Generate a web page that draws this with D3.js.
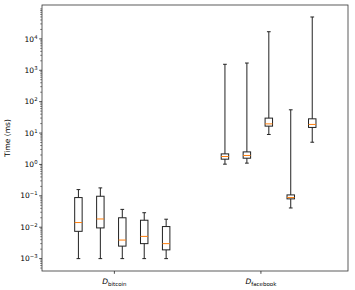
<!DOCTYPE html>
<html>
<head>
<meta charset="utf-8">
<script src="https://cdn.jsdelivr.net/npm/d3@7"></script>
<style>
  body { margin: 0; background: #fff; }
  svg { font-family: "DejaVu Sans", sans-serif; }
</style>
</head>
<body>
<svg id="chart" width="355" height="290"></svg>
<script>
// box positions (x units) and five-number summaries in ms
var positions = [0, 1, 2, 3, 4, 6.68, 7.68, 8.68, 9.68, 10.66];
var whiskerLow  = [0.001, 0.001, 0.001, 0.001, 0.001, 1.02, 1.10, 9.0, 0.041, 5.1];
var q1          = [0.0074, 0.0095, 0.0025, 0.0030, 0.0019, 1.47, 1.58, 16.6, 0.080, 15.1];
var medians     = [0.0141, 0.0183, 0.0039, 0.0051, 0.0030, 1.79, 1.93, 19.6, 0.088, 18.8];
var q3          = [0.088, 0.097, 0.020, 0.0167, 0.0105, 2.17, 2.51, 29.9, 0.107, 28.4];
var whiskerHigh = [0.158, 0.179, 0.037, 0.029, 0.018, 1550, 1700, 16900, 55, 49800];

var groupTicks = [1.64, 8.32];
var groupNames = ["bitcoin", "facebook"];
var yTicks = [1e-3, 1e-2, 1e-1, 1e0, 1e1, 1e2, 1e3, 1e4];

var svg = d3.select("#chart"),
    margin = {top: 5, right: 7, bottom: 19, left: 42},
    width = +svg.attr("width") - margin.left - margin.right,
    height = +svg.attr("height") - margin.top - margin.bottom,
    g = svg.append("g").attr("transform", "translate(" + margin.left + "," + margin.top + ")");

var x = d3.scaleLinear().domain([-1.66, 12.29]).range([0, width]);
var y = d3.scaleLog().domain([4.03e-4, 1.2e5]).range([height, 0]);

var boxW = x(0.34) - x(0),
    capW = boxW / 2;

var data = positions.map(function(p, i) {
  return {pos: p, lo: whiskerLow[i], q1: q1[i], med: medians[i], q3: q3[i], hi: whiskerHigh[i]};
});

// minor ticks
var minor = [];
for (var e = -4; e <= 5; e++) {
  for (var m = 2; m <= 9; m++) {
    var v = m * Math.pow(10, e);
    if (v >= y.domain()[0] && v <= y.domain()[1]) minor.push(v);
  }
}
g.selectAll(".minor")
  .data(minor)
  .enter().append("line")
    .attr("x1", -1.8).attr("x2", 0)
    .attr("y1", function(d) { return y(d); })
    .attr("y2", function(d) { return y(d); })
    .attr("stroke", "#000").attr("stroke-width", 0.5);

// y axis major ticks + labels
var yt = g.selectAll(".ytick")
  .data(yTicks)
  .enter().append("g")
    .attr("transform", function(d) { return "translate(0," + y(d) + ")"; });
yt.append("line").attr("x1", -2.8).attr("x2", 0).attr("stroke", "#000").attr("stroke-width", 0.7);
var yl = yt.append("text")
    .attr("x", -4.5)
    .attr("dy", "0.35em")
    .attr("text-anchor", "end")
    .style("font-size", "7.5px");
yl.append("tspan").text("10");
yl.append("tspan")
    .attr("dy", -3)
    .style("font-size", "5.3px")
    .text(function(d) { return String(Math.round(Math.log10(d))).replace("-", "\u2212"); });

// x ticks
var xt = g.selectAll(".xtick")
  .data(groupTicks)
  .enter().append("g")
    .attr("transform", function(d, i) { return "translate(" + x(d) + "," + height + ")"; });
xt.append("line").attr("y1", 0).attr("y2", 2.8).attr("stroke", "#000").attr("stroke-width", 0.7);
var lab = xt.append("text")
    .attr("y", 13)
    .attr("text-anchor", "middle")
    .style("font-size", "7.5px");
lab.append("tspan").style("font-style", "italic").text("D");
lab.append("tspan").attr("dy", 1.8).style("font-size", "5.5px").text(function(d, i) { return groupNames[i]; });

// y label
svg.append("text")
    .attr("transform", "translate(10," + (margin.top + height / 2) + ") rotate(-90)")
    .attr("text-anchor", "middle")
    .style("font-size", "7.5px")
    .text("Time (ms)");

// boxes
var box = g.selectAll(".box")
  .data(data)
  .enter().append("g")
    .attr("class", "box");

box.append("line")
    .attr("x1", function(d) { return x(d.pos); })
    .attr("x2", function(d) { return x(d.pos); })
    .attr("y1", function(d) { return y(d.lo); })
    .attr("y2", function(d) { return y(d.q1); })
    .attr("stroke", "#222").attr("stroke-width", 1);
box.append("line")
    .attr("x1", function(d) { return x(d.pos); })
    .attr("x2", function(d) { return x(d.pos); })
    .attr("y1", function(d) { return y(d.q3); })
    .attr("y2", function(d) { return y(d.hi); })
    .attr("stroke", "#222").attr("stroke-width", 1);
box.selectAll(".cap")
  .data(function(d) { return [{pos: d.pos, v: d.lo}, {pos: d.pos, v: d.hi}]; })
  .enter().append("line")
    .attr("x1", function(d) { return x(d.pos) - capW / 2; })
    .attr("x2", function(d) { return x(d.pos) + capW / 2; })
    .attr("y1", function(d) { return y(d.v); })
    .attr("y2", function(d) { return y(d.v); })
    .attr("stroke", "#222").attr("stroke-width", 1);
box.append("rect")
    .attr("x", function(d) { return x(d.pos) - boxW / 2; })
    .attr("y", function(d) { return y(d.q3); })
    .attr("width", boxW)
    .attr("height", function(d) { return y(d.q1) - y(d.q3); })
    .attr("fill", "none")
    .attr("stroke", "#222").attr("stroke-width", 1);
box.append("line")
    .attr("x1", function(d) { return x(d.pos) - boxW / 2; })
    .attr("x2", function(d) { return x(d.pos) + boxW / 2; })
    .attr("y1", function(d) { return y(d.med); })
    .attr("y2", function(d) { return y(d.med); })
    .attr("stroke", "#ff7f0e").attr("stroke-width", 1);

// frame
g.append("rect")
    .attr("width", width).attr("height", height)
    .attr("fill", "none").attr("stroke", "#333").attr("stroke-width", 0.8);
</script>
</body>
</html>
